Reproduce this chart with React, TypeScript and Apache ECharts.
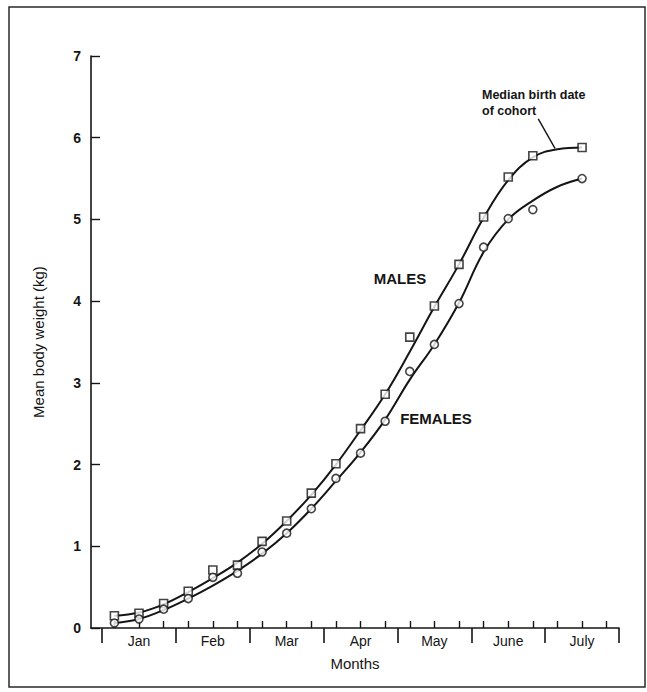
import React, { useEffect, useRef } from "react";
import * as echarts from "echarts";

const months = ["Jan", "Feb", "Mar", "Apr", "May", "June", "July"];
// one observation every ~10 days, index 0..19
const maleWeights = [0.15, 0.18, 0.30, 0.45, 0.71, 0.77, 1.06, 1.31, 1.65, 2.01, 2.44, 2.86, 3.56, 3.94, 4.45, 5.03, 5.52, 5.78, null, 5.88];
const femaleWeights = [0.06, 0.11, 0.23, 0.36, 0.62, 0.67, 0.93, 1.16, 1.46, 1.83, 2.14, 2.53, 3.14, 3.47, 3.97, 4.66, 5.01, 5.12, null, 5.50];
// fitted curves
const maleCurve = [0.15, 0.19, 0.29, 0.44, 0.61, 0.80, 1.03, 1.31, 1.63, 2.00, 2.42, 2.86, 3.38, 3.93, 4.45, 5.02, 5.48, 5.76, 5.86, 5.88];
const femaleCurve = [0.06, 0.11, 0.22, 0.36, 0.52, 0.70, 0.91, 1.16, 1.46, 1.80, 2.15, 2.55, 3.04, 3.47, 3.98, 4.60, 5.00, 5.23, 5.40, 5.50];
const yTicks = [0, 1, 2, 3, 4, 5, 6, 7];
const tenDayTicks = Array.from({ length: 21 }, (_, i) => i);
const monthCenters = months.map((_, m) => 1 + 3 * m);
const monthBounds = [-0.5, 2.5, 5.5, 8.5, 11.5, 14.5, 17.5, 20.5];
const leader = [[17.9, 5.87], [17.22, 6.23]];

const INK = "#151515";
const FONT = "'Liberation Sans', Arial, Helvetica, sans-serif";

export default function App() {
  const ref = useRef<HTMLDivElement>(null);
  useEffect(() => {
    if (!ref.current) return;
    const chart = echarts.init(ref.current, undefined, { renderer: "svg" });
    const toPairs = (arr: (number | null)[]) =>
      arr.map((v, i) => [i, v]).filter((p) => p[1] !== null);
    const common = { min: -0.95, max: 20.5, type: "value" as const };
    chart.setOption({
      animation: false,
      backgroundColor: "#ffffff",
      textStyle: { fontFamily: FONT, color: INK },
      grid: { left: 91, right: 28, top: 56, bottom: 64 },
      xAxis: [
        {
          ...common,
          position: "bottom",
          name: "Months",
          nameLocation: "middle",
          nameGap: 28,
          nameTextStyle: { fontSize: 15, color: INK, fontFamily: FONT },
          axisLine: { show: true, onZero: false, lineStyle: { color: INK, width: 1.6 } },
          axisTick: { show: true, inside: true, length: 7, customValues: tenDayTicks, lineStyle: { color: INK, width: 1.4 } },
          axisLabel: {
            show: true,
            customValues: monthCenters,
            margin: 6,
            fontSize: 14,
            color: INK,
            fontFamily: FONT,
            formatter: (v: number) => months[Math.round((v - 1) / 3)] ?? "",
          },
          splitLine: { show: false },
        },
        {
          ...common,
          position: "bottom",
          axisLine: { show: false, onZero: false },
          axisTick: { show: true, inside: false, length: 15, customValues: monthBounds, lineStyle: { color: INK, width: 1.6 } },
          axisLabel: { show: false },
          splitLine: { show: false },
        },
      ],
      yAxis: {
        type: "value",
        min: 0,
        max: 7,
        interval: 1,
        position: "left",
        name: "Mean body weight (kg)",
        nameLocation: "middle",
        nameGap: 45,
        nameTextStyle: { fontSize: 15, color: INK, fontFamily: FONT },
        axisLine: { show: true, onZero: false, lineStyle: { color: INK, width: 1.6 } },
        axisTick: { show: true, inside: true, length: 9, customValues: yTicks, lineStyle: { color: INK, width: 1.4 } },
        axisLabel: { fontSize: 14, fontWeight: "bold", color: INK, margin: 10, fontFamily: FONT },
        splitLine: { show: false },
      },
      series: [
        {
          type: "line",
          data: toPairs(maleCurve),
          smooth: 0.4,
          showSymbol: false,
          lineStyle: { color: INK, width: 2 },
          z: 2,
          markLine: {
            silent: true,
            symbol: "none",
            label: { show: false },
            lineStyle: { color: INK, width: 1.4, type: "solid" },
            data: [[{ coord: leader[0] }, { coord: leader[1] }]],
          },
        },
        {
          type: "line",
          data: toPairs(femaleCurve),
          smooth: 0.4,
          showSymbol: false,
          lineStyle: { color: INK, width: 2 },
          z: 2,
        },
        {
          type: "scatter",
          data: toPairs(maleWeights),
          symbol: "rect",
          symbolSize: 8,
          itemStyle: { color: "#ffffff", borderColor: INK, borderWidth: 1.6 },
          z: 5,
        },
        {
          type: "scatter",
          data: toPairs(femaleWeights),
          symbol: "circle",
          symbolSize: 8,
          itemStyle: { color: "#ffffff", borderColor: INK, borderWidth: 1.6 },
          z: 5,
        },
      ],
      graphic: [
        {
          type: "rect",
          shape: { x: 9, y: 7, width: 636, height: 680 },
          style: { fill: "none", stroke: "#2a2a2a", lineWidth: 1.5 },
          silent: true,
        },
        {
          type: "text",
          x: 400,
          y: 278,
          style: { text: "MALES", font: `bold 15px ${FONT}`, fill: INK, textAlign: "center", textVerticalAlign: "middle" },
        },
        {
          type: "text",
          x: 436,
          y: 418,
          style: { text: "FEMALES", font: `bold 15px ${FONT}`, fill: INK, textAlign: "center", textVerticalAlign: "middle" },
        },
        {
          type: "text",
          x: 482,
          y: 87,
          style: { text: "Median birth date\nof cohort", font: `bold 12.5px ${FONT}`, lineHeight: 16, fill: INK, textAlign: "left" },
        },
      ],
    });
    return () => chart.dispose();
  }, []);
  return (
    <div
      ref={ref}
      style={{ position: "fixed", left: 0, top: 0, width: 647, height: 692, background: "#fff" }}
    />
  );
}
